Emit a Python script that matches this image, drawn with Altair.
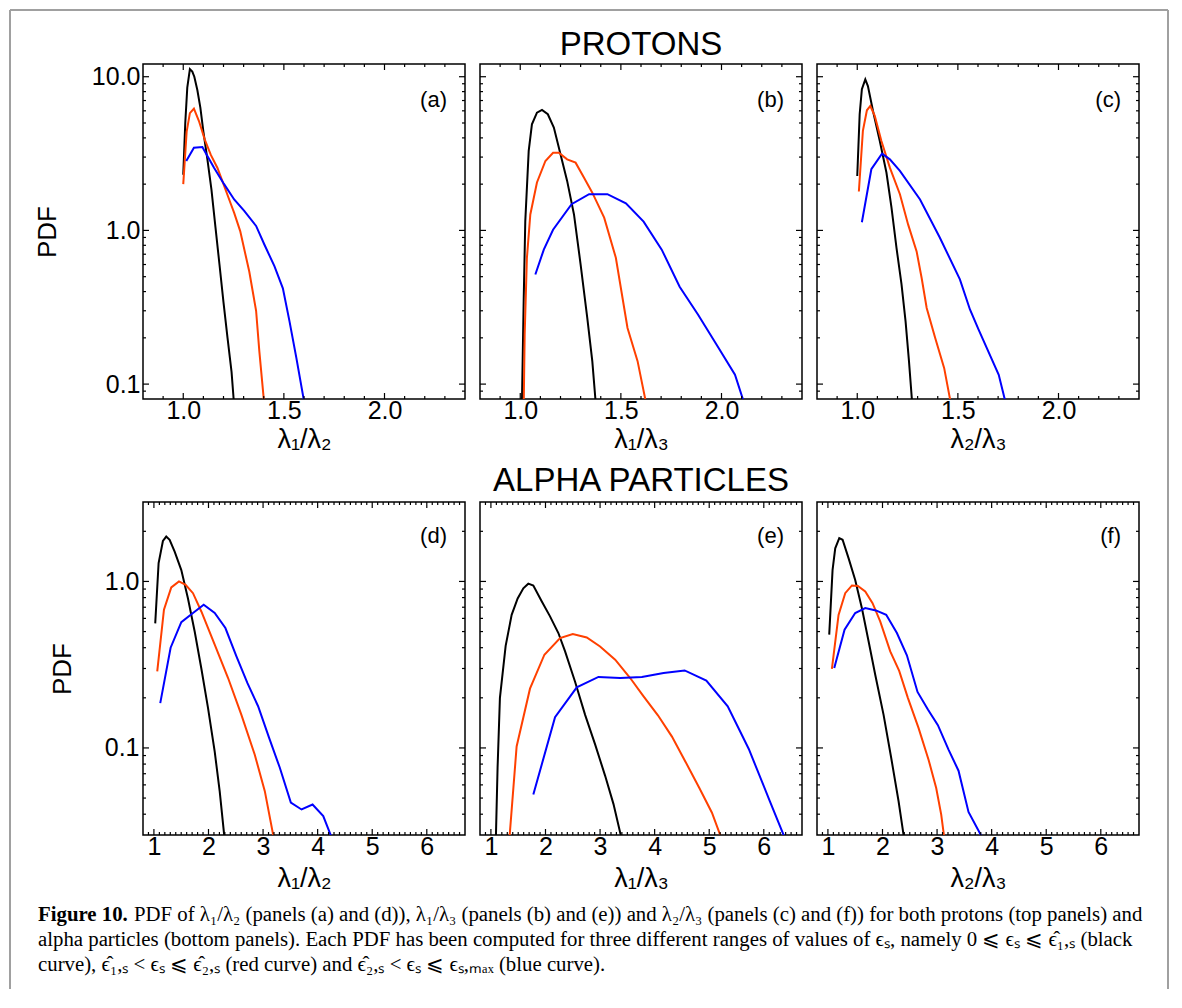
import altair as alt
import pandas as pd

# ---------------- data ----------------
# Panel (a) protons, lambda1/lambda2
a_black_x = [1.000, 1.010, 1.020, 1.033, 1.045, 1.055, 1.070, 1.085, 1.100, 1.120, 1.140, 1.160, 1.180, 1.200, 1.220, 1.240, 1.252]
a_black_y = [2.3, 5.0, 8.5, 11.2, 10.8, 10.0, 8.2, 6.3, 4.4, 2.9, 1.85, 1.05, 0.60, 0.34, 0.20, 0.12, 0.075]
a_red_x = [1.000, 1.017, 1.033, 1.053, 1.078, 1.107, 1.137, 1.170, 1.200, 1.237, 1.253, 1.283, 1.328, 1.362, 1.378, 1.402]
a_red_y = [2.0, 4.4, 5.8, 6.2, 5.15, 3.9, 3.1, 2.55, 2.0, 1.48, 1.3, 0.99, 0.54, 0.30, 0.164, 0.075]
a_blue_x = [1.015, 1.053, 1.095, 1.120, 1.153, 1.203, 1.253, 1.303, 1.362, 1.403, 1.453, 1.495, 1.528, 1.562, 1.602]
a_blue_y = [2.83, 3.45, 3.49, 3.05, 2.56, 2.0, 1.59, 1.34, 1.07, 0.81, 0.585, 0.42, 0.256, 0.148, 0.075]

# Panel (b) protons, lambda1/lambda3
b_black_x = [1.008, 1.017, 1.025, 1.042, 1.058, 1.083, 1.108, 1.137, 1.167, 1.200, 1.233, 1.267, 1.300, 1.333, 1.358, 1.377]
b_black_y = [0.07, 0.346, 1.15, 3.29, 4.9, 5.84, 6.08, 5.7, 4.67, 3.13, 2.1, 1.27, 0.60, 0.27, 0.141, 0.07]
b_red_x = [1.017, 1.022, 1.033, 1.050, 1.083, 1.125, 1.163, 1.192, 1.233, 1.275, 1.317, 1.358, 1.417, 1.475, 1.533, 1.583, 1.630]
b_red_y = [0.07, 0.21, 0.66, 1.27, 2.05, 2.83, 3.2, 3.2, 2.9, 2.76, 2.2, 1.76, 1.21, 0.664, 0.232, 0.141, 0.07]
b_blue_x = [1.075, 1.117, 1.163, 1.255, 1.342, 1.433, 1.525, 1.613, 1.703, 1.792, 1.883, 1.975, 2.067, 2.113]
b_blue_y = [0.517, 0.75, 1.01, 1.48, 1.72, 1.72, 1.50, 1.14, 0.75, 0.43, 0.284, 0.181, 0.115, 0.075]

# Panel (c) protons, lambda2/lambda3
c_black_x = [1.000, 1.012, 1.023, 1.040, 1.053, 1.078, 1.112, 1.145, 1.170, 1.195, 1.220, 1.240, 1.257, 1.273]
c_black_y = [2.26, 5.7, 8.3, 9.6, 8.7, 6.0, 3.82, 2.38, 1.41, 0.77, 0.445, 0.257, 0.141, 0.075]
c_red_x = [1.008, 1.028, 1.048, 1.065, 1.087, 1.120, 1.162, 1.212, 1.253, 1.295, 1.320, 1.345, 1.387, 1.432, 1.465]
c_red_y = [1.79, 4.44, 6.05, 6.45, 5.56, 3.82, 2.56, 1.72, 1.09, 0.73, 0.49, 0.313, 0.2, 0.127, 0.075]
c_blue_x = [1.023, 1.070, 1.123, 1.162, 1.212, 1.312, 1.410, 1.510, 1.560, 1.603, 1.703, 1.738]
c_blue_y = [1.13, 2.5, 3.16, 2.9, 2.44, 1.59, 0.90, 0.48, 0.306, 0.226, 0.115, 0.075]

# Panel (d) alpha particles, lambda1/lambda2
d_black_x = [1.024, 1.086, 1.165, 1.226, 1.288, 1.380, 1.502, 1.624, 1.747, 1.869, 1.991, 2.114, 2.205, 2.297]
d_black_y = [0.56, 1.29, 1.75, 1.86, 1.78, 1.51, 1.17, 0.79, 0.50, 0.30, 0.174, 0.095, 0.055, 0.028]
d_red_x = [1.061, 1.184, 1.318, 1.459, 1.581, 1.716, 1.869, 2.114, 2.359, 2.603, 2.848, 3.032, 3.203]
d_red_y = [0.288, 0.676, 0.92, 1.0, 0.955, 0.85, 0.66, 0.417, 0.263, 0.158, 0.091, 0.055, 0.028]
d_blue_x = [1.116, 1.306, 1.502, 1.716, 1.912, 2.114, 2.310, 2.512, 2.714, 2.909, 3.111, 3.307, 3.509, 3.705, 3.907, 4.103, 4.274]
d_blue_y = [0.186, 0.40, 0.57, 0.646, 0.724, 0.646, 0.525, 0.355, 0.245, 0.178, 0.115, 0.076, 0.047, 0.0427, 0.0457, 0.039, 0.028]

# Panel (e) alpha particles, lambda1/lambda3
e_black_x = [1.090, 1.122, 1.165, 1.270, 1.380, 1.490, 1.594, 1.685, 1.777, 1.930, 2.083, 2.236, 2.359, 2.542, 2.726, 2.909, 3.093, 3.246, 3.400]
e_black_y = [0.028, 0.076, 0.20, 0.41, 0.63, 0.79, 0.91, 0.97, 0.946, 0.76, 0.617, 0.49, 0.38, 0.25, 0.158, 0.105, 0.068, 0.046, 0.028]
e_red_x = [1.337, 1.471, 1.716, 1.980, 2.267, 2.500, 2.756, 3.000, 3.277, 3.552, 3.797, 4.060, 4.317, 4.562, 4.819, 5.050, 5.235]
e_red_y = [0.028, 0.102, 0.227, 0.363, 0.457, 0.483, 0.461, 0.407, 0.339, 0.263, 0.204, 0.157, 0.117, 0.083, 0.0575, 0.0408, 0.028]
e_blue_x = [1.777, 2.175, 2.573, 2.970, 3.368, 3.766, 4.164, 4.550, 4.947, 5.339, 5.725, 6.110, 6.400]
e_blue_y = [0.0525, 0.153, 0.231, 0.267, 0.263, 0.267, 0.282, 0.292, 0.254, 0.178, 0.0986, 0.048, 0.028]

# Panel (f) alpha particles, lambda2/lambda3
f_black_x = [1.024, 1.085, 1.134, 1.208, 1.269, 1.378, 1.500, 1.623, 1.745, 1.867, 2.020, 2.160, 2.294, 2.400]
f_black_y = [0.479, 1.17, 1.58, 1.82, 1.78, 1.38, 1.02, 0.69, 0.437, 0.275, 0.158, 0.087, 0.048, 0.028]
f_red_x = [1.073, 1.195, 1.317, 1.440, 1.549, 1.684, 1.818, 1.958, 2.142, 2.306, 2.465, 2.660, 2.844, 2.984, 3.076, 3.137]
f_red_y = [0.298, 0.63, 0.85, 0.946, 0.94, 0.87, 0.74, 0.575, 0.38, 0.29, 0.2, 0.132, 0.085, 0.0575, 0.0398, 0.028]
f_blue_x = [1.116, 1.305, 1.500, 1.684, 1.879, 2.068, 2.264, 2.447, 2.642, 2.832, 3.015, 3.210, 3.393, 3.576, 3.851]
f_blue_y = [0.302, 0.513, 0.646, 0.692, 0.67, 0.63, 0.49, 0.36, 0.217, 0.17, 0.137, 0.0977, 0.073, 0.0413, 0.028]

# axes / ticks
top_x_domain = [0.8, 2.4]
top_y_domain = [0.08, 12.1]
bot_x_domain = [0.8, 6.7]
bot_y_domain = [0.03, 3.0]
top_x_major = [1.0, 1.5, 2.0]
top_x_minor = [0.9, 1.1, 1.2, 1.3, 1.4, 1.6, 1.7, 1.8, 1.9, 2.1, 2.2, 2.3]
bot_x_major = [1, 2, 3, 4, 5, 6]
bot_x_minor = [0.9, 1.1, 1.2, 1.3, 1.4, 1.5, 1.6, 1.7, 1.8, 1.9, 2.1, 2.2, 2.3, 2.4, 2.5, 2.6, 2.7, 2.8, 2.9,
               3.1, 3.2, 3.3, 3.4, 3.5, 3.6, 3.7, 3.8, 3.9, 4.1, 4.2, 4.3, 4.4, 4.5, 4.6, 4.7, 4.8, 4.9,
               5.1, 5.2, 5.3, 5.4, 5.5, 5.6, 5.7, 5.8, 5.9, 6.1, 6.2, 6.3, 6.4, 6.5, 6.6]
top_y_major = [0.1, 1.0, 10.0]
top_y_minor = [0.09, 0.2, 0.3, 0.4, 0.5, 0.6, 0.7, 0.8, 0.9, 2, 3, 4, 5, 6, 7, 8, 9]
bot_y_major = [0.1, 1.0]
bot_y_minor = [0.04, 0.05, 0.06, 0.07, 0.08, 0.09, 0.2, 0.3, 0.4, 0.5, 0.6, 0.7, 0.8, 0.9, 2]

series_names = ["black", "red", "blue"]
series_colors = ["#000000", "#ff4000", "#0000ff"]
x_titles = ["λ₁/λ₂", "λ₁/λ₃", "λ₂/λ₃"]
panel_labels = ["(a)", "(b)", "(c)", "(d)", "(e)", "(f)"]
row_titles = ["PROTONS", "ALPHA PARTICLES"]
caption_bold = "Figure 10."
caption_lines = [
    "PDF of λ₁/λ₂ (panels (a) and (d)), λ₁/λ₃ (panels (b) and (e)) and λ₂/λ₃ (panels (c) and (f)) for both protons (top panels) and",
    "alpha particles (bottom panels). Each PDF has been computed for three different ranges of values of ϵₛ, namely 0 ⩽ ϵₛ ⩽ ϵ̂₁,ₛ (black",
    "curve), ϵ̂₁,ₛ < ϵₛ ⩽ ϵ̂₂,ₛ (red curve) and ϵ̂₂,ₛ < ϵₛ ⩽ ϵₛ,ₘₐₓ (blue curve).",
]

FONT = "Liberation Sans"
SERIF = "Liberation Serif"
W = 322
H_TOP = 335
H_BOT = 333
MAJ = 6
MIN = 3
CAP = 20.8


def make_df(curves):
    rows = []
    for name, xs, ys in curves:
        for i, (x, y) in enumerate(zip(xs, ys)):
            rows.append({"x": x, "y": y, "c": name, "i": i})
    return pd.DataFrame(rows)


def x_axis(values, title, fmt, title_y):
    return alt.Axis(orient="bottom", values=values, tickSize=MAJ, offset=-MAJ, ticks=False,
                    domain=False, grid=False, title=title, minExtent=0,
                    labelFont=FONT, labelFontSize=25, labelPadding=5, labelColor="black",
                    format=fmt, labelFlush=False, labelOverlap=False,
                    titleFont=FONT, titleFontSize=27, titleFontWeight="normal", titleColor="black",
                    titleY=title_y, titleBaseline="alphabetic")


def y_axis(values, show, pad, title_x, h):
    kw = dict(orient="left", values=values, tickSize=MAJ, offset=-MAJ, ticks=False, labels=show,
              domain=False, grid=False, title="PDF" if show else "", minExtent=0)
    if show:
        kw.update(labelFont=FONT, labelFontSize=25, labelPadding=pad, labelColor="black",
                  format=".1f", labelOverlap=False, labelFlush=False,
                  titleFont=FONT, titleFontSize=26, titleFontWeight="normal", titleColor="black",
                  titleX=title_x, titleY=h / 2, titleAngle=270, titleAlign="center",
                  titleBaseline="middle")
    return alt.Axis(**kw)


one = alt.Data(values=[{"k": 1}])


def text_layer(txt, x, y, size, font=FONT, align="left", baseline="alphabetic", weight="normal"):
    return alt.Chart(one).mark_text(
        text=txt, font=font, fontSize=size, fontWeight=weight, align=align,
        baseline=baseline, color="black"
    ).encode(x=alt.value(x), y=alt.value(y))


def tick_layer(values, scale, edge, length, h):
    """Inward tick marks drawn as rules at tick values through the panel scale."""
    base = alt.Chart(alt.Data(values=[{"v": v} for v in values])).mark_rule(color="black", strokeWidth=1.2)
    if edge in ("bottom", "top"):
        pos = alt.X("v:Q", scale=scale, axis=None)
        y0 = h if edge == "bottom" else 0
        y1 = h - length if edge == "bottom" else length
        return base.encode(x=pos, y=alt.value(y0), y2=alt.value(y1))
    pos = alt.Y("v:Q", scale=scale, axis=None)
    x0 = 0 if edge == "left" else W
    x1 = length if edge == "left" else W - length
    return base.encode(y=pos, x=alt.value(x0), x2=alt.value(x1))


def panel(curves, top, xtitle, label, show_y, extra=None):
    df = make_df(curves)
    h = H_TOP if top else H_BOT
    xdom = top_x_domain if top else bot_x_domain
    ydom = top_y_domain if top else bot_y_domain
    xmaj = top_x_major if top else bot_x_major
    xmin = top_x_minor if top else bot_x_minor
    ymaj = top_y_major if top else bot_y_major
    ymin = top_y_minor if top else bot_y_minor
    fmt = ".1f" if top else "d"
    xs = alt.Scale(domain=xdom, nice=False, zero=False)
    ys = alt.Scale(type="log", domain=ydom, nice=False)
    ypad = 9 if top else 10
    title_x = (46 - 148) if top else (61 - 148)
    title_y = 54 if top else 57

    lines = alt.Chart(df).mark_line(strokeWidth=2, clip=True).encode(
        x=alt.X("x:Q", scale=xs, axis=x_axis(xmaj, xtitle, fmt, title_y)),
        y=alt.Y("y:Q", scale=ys, axis=y_axis(ymaj, show_y, ypad, title_x, h)),
        color=alt.Color("c:N", scale=alt.Scale(domain=series_names, range=series_colors), legend=None),
        order="i:Q",
    )
    layers = [lines]
    for edge in ("bottom", "top"):
        layers.append(tick_layer(xmaj, xs, edge, MAJ, h))
        layers.append(tick_layer(xmin, xs, edge, MIN, h))
    for edge in ("left", "right"):
        layers.append(tick_layer(ymaj, ys, edge, MAJ, h))
        layers.append(tick_layer(ymin, ys, edge, MIN, h))
    layers.append(text_layer(label, W - 18, 36 if top else 34, 22, align="right", baseline="middle"))
    if extra:
        layers += extra
    return alt.layer(*layers).resolve_axis(x="independent", y="independent").properties(width=W, height=h)


border = [
    alt.Chart(one).mark_rule(color="#a0a0a0", strokeWidth=2).encode(
        x=alt.value(-133), y=alt.value(-54), y2=alt.value(925)),
    alt.Chart(one).mark_rule(color="#a0a0a0", strokeWidth=2).encode(
        x=alt.value(-133), x2=alt.value(1025), y=alt.value(-54)),
    alt.Chart(one).mark_rule(color="#a0a0a0", strokeWidth=2).encode(
        x=alt.value(1025), y=alt.value(-54), y2=alt.value(925)),
]

caption = [
    text_layer(caption_bold, -105, 419, CAP, font=SERIF, weight="bold"),
    text_layer(caption_lines[0], -9, 419, CAP, font=SERIF),
    text_layer(caption_lines[1], -105, 444, CAP, font=SERIF),
    text_layer(caption_lines[2], -105, 469, CAP, font=SERIF),
]

pa = panel([("black", a_black_x, a_black_y), ("red", a_red_x, a_red_y), ("blue", a_blue_x, a_blue_y)],
           True, x_titles[0], panel_labels[0], True, extra=border)
pb = panel([("black", b_black_x, b_black_y), ("red", b_red_x, b_red_y), ("blue", b_blue_x, b_blue_y)],
           True, x_titles[1], panel_labels[1], False,
           extra=[text_layer(row_titles[0], W / 2, -9, 33, align="center")])
pc = panel([("black", c_black_x, c_black_y), ("red", c_red_x, c_red_y), ("blue", c_blue_x, c_blue_y)],
           True, x_titles[2], panel_labels[2], False)
pd_ = panel([("black", d_black_x, d_black_y), ("red", d_red_x, d_red_y), ("blue", d_blue_x, d_blue_y)],
            False, x_titles[0], panel_labels[3], True, extra=caption)
pe = panel([("black", e_black_x, e_black_y), ("red", e_red_x, e_red_y), ("blue", e_blue_x, e_blue_y)],
           False, x_titles[1], panel_labels[4], False,
           extra=[text_layer(row_titles[1], W / 2, -11, 33, align="center")])
pf = panel([("black", f_black_x, f_black_y), ("red", f_red_x, f_red_y), ("blue", f_blue_x, f_blue_y)],
           False, x_titles[2], panel_labels[5], False)

chart = alt.concat(pa, pb, pc, pd_, pe, pf, columns=3,
                   spacing={"row": 103, "column": 15}, bounds="flush").properties(
    padding=0, background="white"
).configure_view(stroke="black", strokeWidth=1.5)

chart.save("out.html", embed_options={"renderer": "svg", "actions": False})
